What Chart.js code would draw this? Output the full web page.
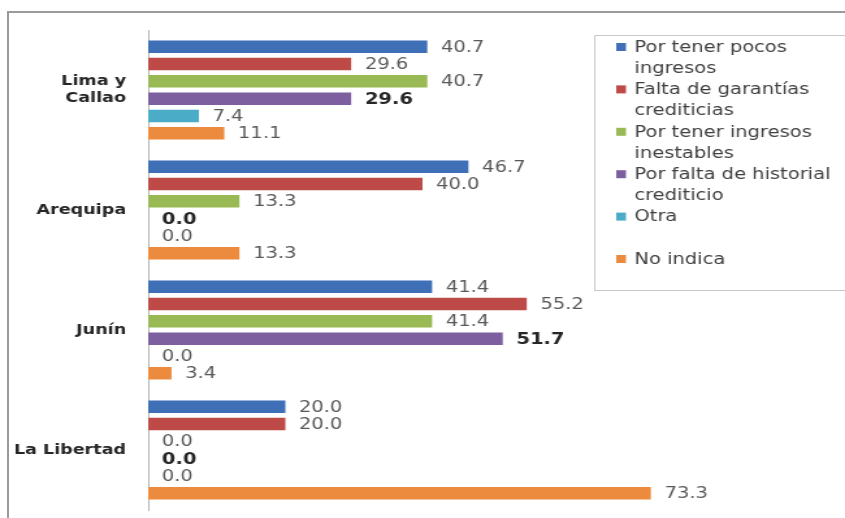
<!DOCTYPE html>
<html lang="es">
<head>
  <meta charset="UTF-8" />
  <title>Motivos por región</title>
  <script src="https://cdn.jsdelivr.net/npm/chart.js"></script>
  <style>
    * { margin: 0; padding: 0; box-sizing: border-box; }
    body { background: #fff; width: 845px; height: 518px; overflow: hidden; position: relative; }
    #frame {
      position: absolute; left: 7px; top: 11px; width: 860px; height: 530px;
      border-left: 2px solid #9a9a9a; border-top: 2px solid #9a9a9a;
    }
    /* the reference is stretched sideways, so the chart is drawn narrow and widened */
    #wrap {
      position: absolute; left: 0; top: 0; width: 650px; height: 518px;
      transform: scaleX(1.3); transform-origin: 0 0;
    }
  </style>
</head>
<body>
  <div id="frame"></div>
  <div id="wrap"><canvas id="chart" width="650" height="518"></canvas></div>
  <script>
    const regions = [["Lima y", "Callao"], "Arequipa", "Junín", "La Libertad"];
    const seriesNames = [
      "Por tener pocos ingresos",
      "Falta de garantías crediticias",
      "Por tener ingresos inestables",
      "Por falta de historial crediticio",
      "Otra",
      "No indica"
    ];
    const legendLines = [
      ["Por tener pocos", "ingresos"],
      ["Falta de garantías", "crediticias"],
      ["Por tener ingresos", "inestables"],
      ["Por falta de historial", "crediticio"],
      ["Otra", ""],
      ["No indica"]
    ];
    const pocosIngresos = [40.7, 46.7, 41.4, 20.0];
    const faltaGarantias = [29.6, 40.0, 55.2, 20.0];
    const ingresosInestables = [40.7, 13.3, 41.4, 0.0];
    const faltaHistorial = [29.6, 0.0, 51.7, 0.0];
    const otra = [7.4, 0.0, 0.0, 0.0];
    const noIndica = [11.1, 13.3, 3.4, 73.3];
    const colors = ["#3f6fb6", "#be4a47", "#98b954", "#7d5fa0", "#4aacc6", "#ec8b3e"];

    const allSeries = [pocosIngresos, faltaGarantias, ingresosInestables, faltaHistorial, otra, noIndica];

    const valueLabels = {
      id: "valueLabels",
      afterDatasetsDraw(chart) {
        const ctx = chart.ctx;
        ctx.save();
        ctx.textBaseline = "middle";
        ctx.textAlign = "left";
        chart.data.datasets.forEach((ds, i) => {
          const bold = i === 3;
          ctx.font = (bold ? "bold " : "") + '15px "DejaVu Sans"';
          ctx.fillStyle = bold ? "#262626" : "#595959";
          chart.getDatasetMeta(i).data.forEach((bar, j) => {
            ctx.fillText(ds.data[j].toFixed(1), bar.x + 10.5, bar.y + 1);
          });
        });
        ctx.restore();
      }
    };

    const boxLegend = {
      id: "boxLegend",
      afterDraw(chart) {
        const ctx = chart.ctx;
        ctx.save();
        ctx.fillStyle = "#fff";
        ctx.fillRect(457, 35, 260, 255);
        ctx.strokeStyle = "#c8c8c8";
        ctx.lineWidth = 1;
        ctx.strokeRect(457.5, 35.5, 260, 255);
        ctx.font = '15px "DejaVu Sans"';
        ctx.textBaseline = "middle";
        let y = 47;
        legendLines.forEach((lines, i) => {
          ctx.fillStyle = colors[i];
          ctx.fillRect(474, y - 4, 7.5, 8);
          ctx.fillStyle = "#404040";
          lines.forEach(t => { ctx.fillText(t, 488, y + 1); y += 21.2; });
        });
        ctx.restore();
      }
    };

    new Chart(document.getElementById("chart"), {
      type: "bar",
      data: {
        labels: regions,
        datasets: allSeries.map((d, i) => ({
          label: seriesNames[i],
          data: d,
          backgroundColor: colors[i],
          categoryPercentage: 0.865,
          barPercentage: 0.72
        }))
      },
      options: {
        indexAxis: "y",
        responsive: false,
        animation: false,
        layout: { padding: { top: 30, bottom: 8, left: 0, right: 114 } },
        plugins: { legend: { display: false }, tooltip: { enabled: false } },
        scales: {
          x: { display: false, min: 0, max: 80 },
          y: {
            afterFit(scale) {
              scale.width = 114;
              scale.paddingTop = 0;
              scale.paddingBottom = 0;
            },
            grid: { display: false, drawTicks: false },
            border: { display: true, color: "#b0b0b0", width: 1 },
            ticks: {
              padding: 17,
              color: "#262626",
              font: { family: "DejaVu Sans", size: 13.5, weight: "bold", lineHeight: 1.33 }
            }
          }
        }
      },
      plugins: [valueLabels, boxLegend]
    });
  </script>
</body>
</html>
